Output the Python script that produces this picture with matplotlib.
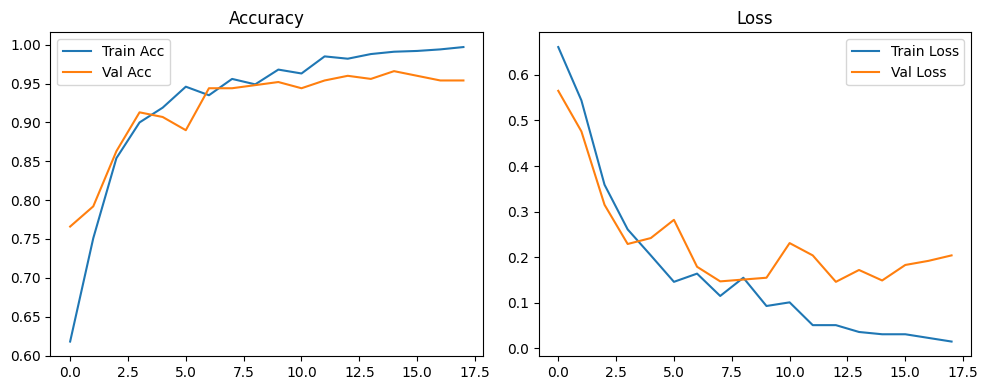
import numpy as np
import matplotlib
matplotlib.use("Agg")
import matplotlib.pyplot as plt

epochs = np.arange(18)
train_acc = [0.618, 0.751, 0.854, 0.900, 0.919, 0.946, 0.935, 0.956, 0.949,
             0.968, 0.963, 0.985, 0.982, 0.988, 0.991, 0.992, 0.994, 0.997]
val_acc = [0.766, 0.792, 0.863, 0.913, 0.907, 0.890, 0.944, 0.944, 0.948,
           0.952, 0.944, 0.954, 0.960, 0.956, 0.966, 0.960, 0.954, 0.954]
train_loss = [0.661, 0.544, 0.359, 0.261, 0.204, 0.146, 0.164, 0.115, 0.155,
              0.093, 0.101, 0.051, 0.051, 0.036, 0.031, 0.031, 0.023, 0.015]
val_loss = [0.565, 0.476, 0.315, 0.229, 0.242, 0.282, 0.179, 0.147, 0.151,
            0.155, 0.231, 0.204, 0.146, 0.172, 0.149, 0.183, 0.192, 0.204]

fig = plt.figure(figsize=(10, 4), dpi=100)

plt.subplot(1, 2, 1)
plt.plot(epochs, train_acc, label="Train Acc")
plt.plot(epochs, val_acc, label="Val Acc")
plt.title("Accuracy")
plt.legend()

plt.subplot(1, 2, 2)
plt.plot(epochs, train_loss, label="Train Loss")
plt.plot(epochs, val_loss, label="Val Loss")
plt.title("Loss")
plt.legend()

plt.tight_layout()
plt.savefig("out.png", dpi=100, bbox_inches="tight")
